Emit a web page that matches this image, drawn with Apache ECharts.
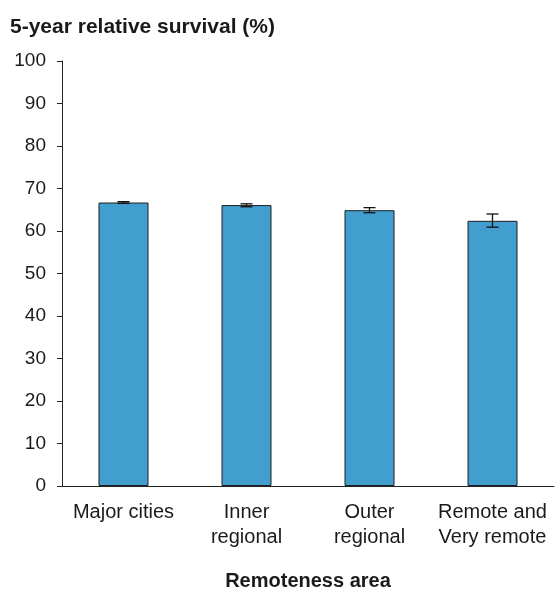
<!DOCTYPE html>
<html>
<head>
<meta charset="utf-8">
<script src="https://cdn.jsdelivr.net/npm/echarts@6/dist/echarts.min.js"></script>
<style>
html, body { margin: 0; padding: 0; background: #fff; }
#chart { width: 556px; height: 592px; }
</style>
</head>
<body>
<div id="chart"></div>
<script>
// 数据
const categories = ['Major cities', 'Inner\nregional', 'Outer\nregional', 'Remote and\nVery remote'];
const survival = [66.7, 66.1, 64.9, 62.4];
const ciLow = [66.5, 65.7, 64.3, 60.9];
const ciHigh = [66.9, 66.4, 65.5, 64.0];
const yTicks = [0, 10, 20, 30, 40, 50, 60, 70, 80, 90, 100];

const textColor = '#1a1a1a';
const font = 'Arial, "Liberation Sans", sans-serif';

let chart = echarts.init(document.getElementById('chart'));
chart.setOption({
  animation: false,
  title: {
    text: '5-year relative survival (%)',
    left: 10,
    top: 17,
    padding: 0,
    textStyle: { fontFamily: font, fontSize: 21, fontWeight: 'bold', color: textColor }
  },
  grid: { left: 62, right: 2, top: 61, bottom: 106, outerBoundsMode: 'none', containLabel: false },
  xAxis: {
    type: 'category',
    data: categories,
    name: 'Remoteness area',
    nameLocation: 'middle',
    nameGap: 85,
    nameTextStyle: { fontFamily: font, fontSize: 20, fontWeight: 'bold', color: textColor },
    axisLine: { lineStyle: { color: '#222', width: 1 } },
    axisTick: { alignWithLabel: true, length: 5, lineStyle: { color: '#222' } },
    axisLabel: { fontFamily: font, fontSize: 20, color: textColor, margin: 14, lineHeight: 25, interval: 0 }
  },
  yAxis: {
    type: 'value',
    min: yTicks[0],
    max: yTicks[yTicks.length - 1],
    interval: 10,
    splitLine: { show: false },
    axisLine: { show: true, lineStyle: { color: '#222', width: 1 } },
    axisTick: { show: true, length: 5, lineStyle: { color: '#222' } },
    axisLabel: { fontFamily: font, fontSize: 19, color: textColor, margin: 16 }
  },
  series: [
    {
      type: 'bar',
      data: survival,
      barWidth: 50,
      itemStyle: { color: '#419ECE', borderColor: '#1f1f1f', borderWidth: 1 }
    },
    {
      // 误差线
      type: 'custom',
      data: categories.map((c, i) => [i, ciLow[i], ciHigh[i]]),
      renderItem: function (params, api) {
        let lo = api.coord([api.value(0), api.value(1)]);
        let hi = api.coord([api.value(0), api.value(2)]);
        let hw = 6;
        let style = { stroke: '#111', lineWidth: 1.3 };
        return {
          type: 'group',
          children: [
            { type: 'line', shape: { x1: lo[0], y1: lo[1], x2: hi[0], y2: hi[1] }, style: style },
            { type: 'line', shape: { x1: lo[0] - hw, y1: lo[1], x2: lo[0] + hw, y2: lo[1] }, style: style },
            { type: 'line', shape: { x1: hi[0] - hw, y1: hi[1], x2: hi[0] + hw, y2: hi[1] }, style: style }
          ]
        };
      },
      z: 10
    }
  ]
});
</script>
</body>
</html>
